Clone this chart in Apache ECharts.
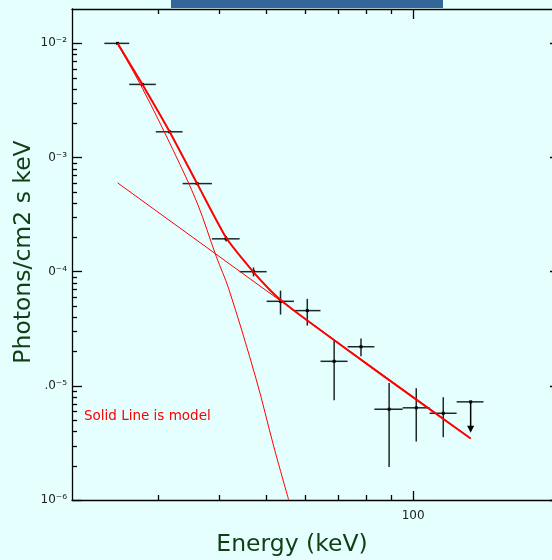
<!DOCTYPE html>
<html><head><meta charset="utf-8">
<script src="https://cdn.jsdelivr.net/npm/echarts@6/dist/echarts.min.js"></script>
<style>html,body{margin:0;padding:0;background:#e5ffff;}#c{width:552px;height:560px;}</style>
</head><body><div id="c"></div>
<script>
// ---- data points (keV, photons/cm2/s/keV) ----
const energy   = [24.8, 27.9, 31.7, 36.1, 41.4, 47.1, 53.5, 60.7, 68.9, 78.2, 89.3, 101.5, 115.3];
const energyLo = [23.3, 26.2, 29.7, 33.7, 38.7, 44.1, 50.1, 57.0, 64.6, 73.4, 83.3, 95.2, 108.1];
const energyHi = [26.2, 29.7, 33.7, 38.7, 44.1, 50.1, 57.0, 64.6, 73.4, 83.3, 95.2, 108.1, 122.8];
const flux     = [1.0e-2, 4.37e-3, 1.68e-3, 5.91e-4, 1.94e-4, 1.0e-4, 5.5e-5, 4.56e-5, 1.64e-5, 2.2e-5, 6.24e-6, 6.42e-6, 5.75e-6];
const fluxLo   = [9.95e-3, 4.34e-3, 1.67e-3, 5.77e-4, 1.835e-4, 9.1e-5, 4.21e-5, 3.37e-5, 7.48e-6, 1.82e-5, 1.95e-6, 3.25e-6, 3.55e-6];
const fluxHi   = [1.005e-2, 4.40e-3, 1.69e-3, 6.05e-4, 2.05e-4, 1.09e-4, 6.83e-5, 5.78e-5, 2.51e-5, 2.6e-5, 1.06e-5, 9.53e-6, 7.95e-6];

// ---- upper limit ----
const ulEnergy = [131.2];
const ulEnergyLo = [122.8];
const ulEnergyHi = [139.4];
const ulFlux = [7.24e-6];
const ulArrowTip = [3.88e-6];

// ---- model components ----
const totalE = [24.8, 27.9, 31.7, 36.1, 41.5, 47.0, 51.0, 53.7, 60.6, 85.6, 131.2];
const totalF = [1.0e-2, 4.35e-3, 1.685e-3, 5.91e-4, 1.95e-4, 1.0e-4, 6.85e-5, 5.6e-5, 3.75e-5, 1.28e-5, 3.46e-6];
const steepE = [24.8, 27.9, 32.2, 36.1, 39.5, 41.9, 47.7, 51.8, 55.6];
const steepF = [9.9e-3, 4.01e-3, 1.17e-3, 4.0e-4, 1.36e-4, 7.07e-5, 1.14e-5, 2.96e-6, 1.0e-6];
const plE = [24.8, 50, 131.2];
const plF = [6.0e-4, 6.84e-5, 3.46e-6];

// ---- axis ranges, ticks & labels ----
const xRange = [20, 200];
const yRange = [1e-6, 2e-2];
const xMajorTicks = [100];
const xTickLabels = ['100'];
const xMinorTicks = [30, 40, 50, 60, 70, 80, 90];
const yMajorTicks = [1e-6, 1e-5, 1e-4, 1e-3, 1e-2];
const yTickLabels = ['10⁻⁶', '.0⁻⁵', '0⁻⁴', '0⁻³', '10⁻²'];
const yMinorTicks = [2e-6,3e-6,4e-6,5e-6,6e-6,7e-6,8e-6,9e-6,
                     2e-5,3e-5,4e-5,5e-5,6e-5,7e-5,8e-5,9e-5,
                     2e-4,3e-4,4e-4,5e-4,6e-4,7e-4,8e-4,9e-4,
                     2e-3,3e-3,4e-3,5e-3,6e-3,7e-3,8e-3,9e-3];

const pairs = (a, b) => a.map((v, i) => [v, b[i]]);
const nearestLabel = (v, ticks, labels) => {
  for (let i = 0; i < ticks.length; i++) {
    if (Math.abs(Math.log10(v) - Math.log10(ticks[i])) < 0.01) return labels[i];
  }
  return '';
};

const AX = '#000';
function xAx(pos, showLabel) {
  return {
    type: 'log', logBase: 10, min: xRange[0], max: xRange[1], position: pos,
    axisLine: { show: true, lineStyle: { color: AX, width: 1.3 } },
    axisTick: { show: true, inside: true, length: pos === 'top' ? 10 : 9, customValues: xMajorTicks, lineStyle: { color: AX, width: 1.3 } },
    axisLabel: showLabel ? { show: true, customValues: xMajorTicks, margin: 10, fontFamily: 'DejaVu Sans', fontSize: 12, color: '#222',
      formatter: v => nearestLabel(v, xMajorTicks, xTickLabels) } : { show: false },
    splitLine: { show: false }, minorTick: { show: false }
  };
}
function yAx(pos, showLabel) {
  return {
    type: 'log', logBase: 10, min: yRange[0], max: yRange[1], position: pos,
    axisLine: { show: true, lineStyle: { color: AX, width: 1.3 } },
    axisTick: { show: true, inside: true, length: 10, customValues: yMajorTicks, lineStyle: { color: AX, width: 1.3 } },
    axisLabel: showLabel ? { show: true, customValues: yMajorTicks, margin: 5, fontFamily: 'DejaVu Sans', fontSize: 12, color: '#222',
      formatter: v => nearestLabel(v, yMajorTicks, yTickLabels) } : { show: false },
    splitLine: { show: false }, minorTick: { show: false }
  };
}

const chart = echarts.init(document.getElementById('c'), null, { renderer: 'canvas' });
const errData = energy.map((e, i) => [e, flux[i], energyLo[i], energyHi[i], fluxLo[i], fluxHi[i]]);
const ulData = ulEnergy.map((e, i) => [e, ulFlux[i], ulEnergyLo[i], ulEnergyHi[i], ulArrowTip[i]]);
const BAR = '#1e2828';
const MINOR_LEN = 5;

const baseGraphic = [
  { id: 'hdr', type: 'rect', left: 171, top: 0, shape: { x: 0, y: 0, width: 272, height: 8 }, style: { fill: '#336699' }, z: 100 },
  { id: 'ytitle', type: 'text', x: 24, y: 252, rotation: Math.PI / 2,
    style: { text: 'Photons/cm2 s keV', fill: '#0f3f12', font: '23.5px "DejaVu Sans"', textAlign: 'center', textVerticalAlign: 'middle' } },
  { id: 'xtitle', type: 'text', x: 292, y: 545,
    style: { text: 'Energy (keV)', fill: '#0f3f12', font: '23.5px "DejaVu Sans"', textAlign: 'center', textVerticalAlign: 'middle' } },
  { id: 'note', type: 'text', x: 84, y: 416,
    style: { text: 'Solid Line is model', fill: '#ff0000', font: '13.5px "DejaVu Sans"', textAlign: 'left', textVerticalAlign: 'middle' } }
];

chart.setOption({
  animation: false,
  backgroundColor: '#e5ffff',
  grid: { left: 72, top: 9, width: 488, height: 491, containLabel: false, outerBoundsMode: 'none' },
  xAxis: [xAx('bottom', true), xAx('top', false)],
  yAxis: [yAx('left', true), yAx('right', false)],
  graphic: baseGraphic,
  series: [
    {
      type: 'custom', xAxisIndex: 0, yAxisIndex: 0, data: errData, encode: { x: 0, y: 1 }, z: 2,
      renderItem: (params, api) => {
        const e = api.value(0), f = api.value(1);
        const c = api.coord([e, f]);
        const l = api.coord([api.value(2), f]), r = api.coord([api.value(3), f]);
        const t = api.coord([e, api.value(5)]), b = api.coord([e, api.value(4)]);
        return { type: 'group', children: [
          { type: 'line', shape: { x1: l[0], y1: l[1], x2: r[0], y2: r[1] }, style: { stroke: BAR, lineWidth: 1.5 } },
          { type: 'line', shape: { x1: t[0], y1: t[1], x2: b[0], y2: b[1] }, style: { stroke: BAR, lineWidth: 1.5 } },
          { type: 'rect', shape: { x: c[0] - 1.5, y: c[1] - 1.5, width: 3, height: 3 }, style: { fill: '#000' } }
        ] };
      }
    },
    {
      type: 'custom', xAxisIndex: 0, yAxisIndex: 0, data: ulData, encode: { x: 0, y: 1 }, z: 2,
      renderItem: (params, api) => {
        const e = api.value(0), f = api.value(1);
        const c = api.coord([e, f]);
        const l = api.coord([api.value(2), f]), r = api.coord([api.value(3), f]);
        const tip = api.coord([e, api.value(4)]);
        return { type: 'group', children: [
          { type: 'line', shape: { x1: l[0], y1: l[1], x2: r[0], y2: r[1] }, style: { stroke: BAR, lineWidth: 1.5 } },
          { type: 'line', shape: { x1: c[0], y1: c[1], x2: tip[0], y2: tip[1] - 6 }, style: { stroke: '#000', lineWidth: 1.5 } },
          { type: 'polygon', shape: { points: [[tip[0] - 3.5, tip[1] - 7], [tip[0] + 3.5, tip[1] - 7], [tip[0], tip[1]]] }, style: { fill: '#000' } },
          { type: 'rect', shape: { x: c[0] - 1.5, y: c[1] - 1.5, width: 3, height: 3 }, style: { fill: '#000' } }
        ] };
      }
    },
    { type: 'line', xAxisIndex: 0, yAxisIndex: 0, data: pairs(steepE, steepF), symbol: 'none', smooth: 0.35, z: 3,
      lineStyle: { color: '#ff0000', width: 1 } },
    { type: 'line', xAxisIndex: 0, yAxisIndex: 0, data: pairs(plE, plF), symbol: 'none', z: 3,
      lineStyle: { color: '#ff0000', width: 1 } },
    { type: 'line', xAxisIndex: 0, yAxisIndex: 0, data: pairs(totalE, totalF), symbol: 'none', smooth: 0.2, z: 4,
      lineStyle: { color: '#ff0000', width: 2 } }
  ]
});

// minor ticks on all four sides, positioned through the chart's own axis scales
const finder = { xAxisIndex: 0, yAxisIndex: 0 };
const tickEls = [];
yMinorTicks.forEach((v, i) => {
  const pl = chart.convertToPixel(finder, [xRange[0], v]);
  const pr = chart.convertToPixel(finder, [xRange[1], v]);
  const y = Math.round(pl[1]) + 0.5;
  tickEls.push({ id: 'ytl' + i, type: 'line', z: 50, shape: { x1: pl[0], y1: y, x2: pl[0] + MINOR_LEN, y2: y }, style: { stroke: AX, lineWidth: 1.3 } });
  tickEls.push({ id: 'ytr' + i, type: 'line', z: 50, shape: { x1: pr[0] - MINOR_LEN, y1: y, x2: pr[0], y2: y }, style: { stroke: AX, lineWidth: 1.3 } });
});
xMinorTicks.forEach((v, i) => {
  const pb = chart.convertToPixel(finder, [v, yRange[0]]);
  const pt = chart.convertToPixel(finder, [v, yRange[1]]);
  const x = Math.round(pb[0]) + 0.5;
  tickEls.push({ id: 'xtb' + i, type: 'line', z: 50, shape: { x1: x, y1: pb[1], x2: x, y2: pb[1] - MINOR_LEN }, style: { stroke: AX, lineWidth: 1.3 } });
  tickEls.push({ id: 'xtt' + i, type: 'line', z: 50, shape: { x1: x, y1: pt[1], x2: x, y2: pt[1] + MINOR_LEN }, style: { stroke: AX, lineWidth: 1.3 } });
});
chart.setOption({ graphic: baseGraphic.concat(tickEls) });
</script></body></html>
